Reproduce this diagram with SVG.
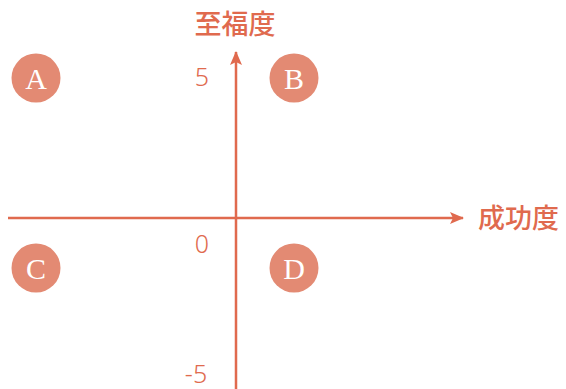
<svg xmlns="http://www.w3.org/2000/svg" width="566" height="389" viewBox="0 0 566 389">
<style>
.ax{stroke:#E06A4E;stroke-width:2.5;fill:none}
.circ{fill:#E38A73}
.let{font-family:"Liberation Serif","DejaVu Serif",serif;font-size:30px;fill:#fff;text-anchor:middle}
.num{font-family:"Noto Sans","Open Sans",sans-serif;font-weight:300;font-size:25px;fill:#E06A4E;text-anchor:middle}
.lab{font-family:"Noto Sans CJK JP","Noto Sans CJK SC",sans-serif;font-weight:500;font-size:27px;fill:#E06A4E}
</style>
<defs>
<marker id="arr" viewBox="0 0 14 12" refX="13" refY="6" markerWidth="14" markerHeight="12" markerUnits="userSpaceOnUse" orient="auto">
<path d="M0,0 L14,6 L0,12 L3,6 Z" fill="#E06A4E"/>
</marker>
</defs>
<rect width="566" height="389" fill="#fff"/>
<g id="connectors">
<line class="ax" x1="8" y1="218" x2="463" y2="218" marker-end="url(#arr)"/>
<line class="ax" x1="236" y1="389" x2="236" y2="52" marker-end="url(#arr)"/>
</g>
<g id="nodeA"><circle class="circ" cx="36" cy="78" r="24.5"/><text class="let" x="36" y="89">A</text></g>
<g id="nodeB"><circle class="circ" cx="294" cy="78" r="24.5"/><text class="let" x="294" y="89">B</text></g>
<g id="nodeC"><circle class="circ" cx="36" cy="268" r="24.5"/><text class="let" x="36" y="279">C</text></g>
<g id="nodeD"><circle class="circ" cx="294" cy="268" r="24.5"/><text class="let" x="294" y="279">D</text></g>
<g id="labels">
<text class="lab" x="235" y="34" text-anchor="middle">至福度</text>
<text class="lab" x="478" y="228">成功度</text>
<text class="num" x="202" y="86">5</text>
<text class="num" x="202" y="253">0</text>
<text class="num" x="196" y="383">-5</text>
</g>
</svg>
